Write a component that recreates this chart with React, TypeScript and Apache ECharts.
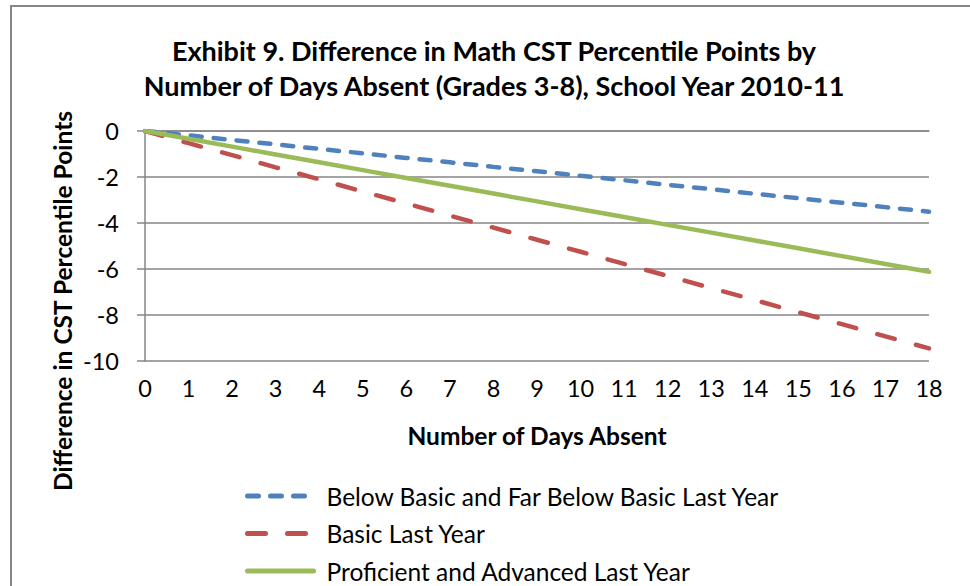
import React, { useEffect, useRef } from "react";
import * as echarts from "echarts";

const titleLines = [
  "Exhibit 9. Difference in Math CST Percentile Points by",
  "Number of Days Absent (Grades 3-8), School Year 2010-11",
];
const xAxisTitle = "Number of Days Absent";
const yAxisTitle = "Difference in CST Percentile Points";

const daysAbsent = [0, 1, 2, 3, 4, 5, 6, 7, 8, 9, 10, 11, 12, 13, 14, 15, 16, 17, 18];

const belowBasicName = "Below Basic and Far Below Basic Last Year";
const belowBasic = [0, -0.19, -0.39, -0.58, -0.78, -0.97, -1.17, -1.36, -1.56, -1.75, -1.95, -2.14, -2.34, -2.53, -2.73, -2.92, -3.12, -3.31, -3.51];

const basicName = "Basic Last Year";
const basic = [0, -0.53, -1.05, -1.58, -2.1, -2.63, -3.15, -3.68, -4.2, -4.73, -5.25, -5.78, -6.3, -6.83, -7.35, -7.88, -8.4, -8.93, -9.45];

const proficientName = "Proficient and Advanced Last Year";
const proficient = [0, -0.34, -0.68, -1.02, -1.36, -1.7, -2.04, -2.38, -2.72, -3.06, -3.4, -3.74, -4.08, -4.42, -4.76, -5.1, -5.44, -5.78, -6.12];

const yMin = -10;
const yMax = 0;
const yInterval = 2;

const FONT = "Lato, 'Open Sans', sans-serif";
const GRAY = "#868686";

export default function App() {
  const ref = useRef<HTMLDivElement>(null);

  useEffect(() => {
    if (!ref.current) return;
    const chart = echarts.init(ref.current, undefined, { renderer: "svg" });
    const pair = (ys: number[]) => daysAbsent.map((d, i) => [d, ys[i]]);
    chart.setOption({
      animation: false,
      backgroundColor: "#ffffff",
      title: {
        text: titleLines.join("\n"),
        left: 489,
        top: 28,
        textAlign: "center",
        textStyle: {
          fontFamily: FONT,
          fontWeight: "bold",
          fontSize: 27,
          lineHeight: 35,
          color: "#000",
        },
      },
      grid: { left: 145, right: 41, top: 131, bottom: 225 },
      xAxis: {
        type: "value",
        min: 0,
        max: 18,
        interval: 1,
        name: xAxisTitle,
        nameLocation: "middle",
        nameGap: 62,
        nameTextStyle: { fontFamily: FONT, fontWeight: "bold", fontSize: 24.5, color: "#000", verticalAlign: "top" },
        axisLine: { show: true, lineStyle: { color: GRAY, width: 1.5 } },
        axisTick: { show: false },
        splitLine: { show: false },
        axisLabel: { fontFamily: FONT, fontSize: 23.5, color: "#000", margin: 15 },
      },
      yAxis: {
        type: "value",
        min: yMin,
        max: yMax,
        interval: yInterval,
        axisLine: { show: true, lineStyle: { color: GRAY, width: 1.5 } },
        axisTick: { show: true, length: 8, inside: false, lineStyle: { color: GRAY, width: 1.5 } },
        splitLine: { show: true, lineStyle: { color: GRAY, width: 1.5 } },
        axisLabel: { fontFamily: FONT, fontSize: 23.5, color: "#000", margin: 26 },
      },
      legend: {
        orient: "vertical",
        left: 245,
        top: 481,
        padding: 0,
        itemWidth: 66,
        itemHeight: 12,
        itemGap: 7.5,
        itemStyle: { opacity: 0, color: "transparent", borderWidth: 0 },
        lineStyle: { width: 5, cap: "round" },
        textStyle: { fontFamily: FONT, fontSize: 24.5, color: "#000", lineHeight: 30, padding: [0, 0, 0, 8] },
        data: [belowBasicName, basicName, proficientName],
      },
      graphic: [
        {
          type: "rect",
          shape: { x: 11, y: 6, width: 980, height: 600 },
          style: { fill: "none", stroke: GRAY, lineWidth: 2 },
          silent: true,
        },
        {
          type: "text",
          x: 62,
          y: 301,
          rotation: Math.PI / 2,
          style: {
            text: yAxisTitle,
            fontFamily: FONT,
            fontWeight: "bold",
            fontSize: 24.5,
            fill: "#000",
            align: "center",
            verticalAlign: "middle",
          },
        },
      ],
      series: [
        {
          name: belowBasicName,
          type: "line",
          data: pair(belowBasic),
          symbol: "none",
          lineStyle: { color: "#4F81BD", width: 4.5, type: [11, 12], cap: "round" },
          itemStyle: { color: "#4F81BD" },
          z: 3,
        },
        {
          name: basicName,
          type: "line",
          data: pair(basic),
          symbol: "none",
          lineStyle: { color: "#C0504D", width: 4.5, type: [18, 22], cap: "round" },
          itemStyle: { color: "#C0504D" },
          z: 4,
        },
        {
          name: proficientName,
          type: "line",
          data: pair(proficient),
          symbol: "none",
          lineStyle: { color: "#9BBB59", width: 4.5, cap: "round" },
          itemStyle: { color: "#9BBB59" },
          z: 5,
        },
      ],
    });
    return () => chart.dispose();
  }, []);

  return (
    <div
      ref={ref}
      style={{ position: "fixed", left: 0, top: 0, width: 970, height: 586 }}
    />
  );
}
